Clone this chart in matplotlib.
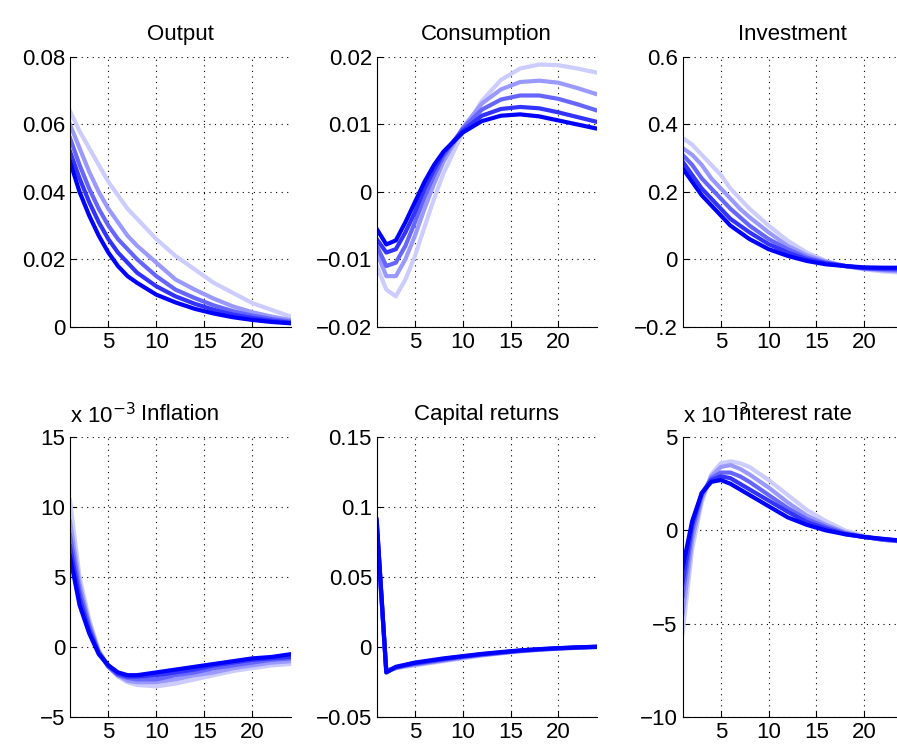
import numpy as np
import matplotlib
matplotlib.use('Agg')
import matplotlib.pyplot as plt

plt.rcParams['font.family'] = ['Liberation Sans', 'DejaVu Sans']

# periods (shared by all panels)
t = [1, 2, 3, 4, 5, 6, 7, 8, 10, 12, 14, 16, 18, 20, 22, 24]

# each panel: lines ordered from light to dark
output = [
    [0.064, 0.058, 0.053, 0.048, 0.043, 0.039, 0.035, 0.032, 0.026, 0.021, 0.017, 0.013, 0.010, 0.007, 0.005, 0.003],
    [0.060, 0.053, 0.046, 0.040, 0.035, 0.031, 0.027, 0.024, 0.019, 0.014, 0.011, 0.0083, 0.006, 0.0043, 0.003, 0.002],
    [0.056, 0.048, 0.041, 0.035, 0.030, 0.026, 0.023, 0.020, 0.015, 0.011, 0.0085, 0.0063, 0.0046, 0.0033, 0.0023, 0.0015],
    [0.052, 0.044, 0.037, 0.031, 0.026, 0.022, 0.019, 0.016, 0.012, 0.009, 0.0068, 0.005, 0.0036, 0.0026, 0.0018, 0.0012],
    [0.049, 0.040, 0.033, 0.027, 0.022, 0.018, 0.015, 0.013, 0.0095, 0.0072, 0.0053, 0.0039, 0.0028, 0.002, 0.0014, 0.001],
]
consumption = [
    [-0.011, -0.0145, -0.0155, -0.013, -0.0095, -0.0052, -0.001, 0.0028, 0.0088, 0.0135, 0.0166, 0.0183, 0.0189, 0.0188, 0.0183, 0.0177],
    [-0.009, -0.0125, -0.0125, -0.0100, -0.0065, -0.0025, 0.0012, 0.0045, 0.0095, 0.0131, 0.0152, 0.0163, 0.0165, 0.0162, 0.0154, 0.0145],
    [-0.008, -0.011, -0.0105, -0.008, -0.0045, -0.0008, 0.0025, 0.0053, 0.0094, 0.0122, 0.0137, 0.0143, 0.0143, 0.0138, 0.013, 0.0121],
    [-0.007, -0.009, -0.0085, -0.006, -0.003, 0.0005, 0.0033, 0.0058, 0.0091, 0.0113, 0.0123, 0.0126, 0.0124, 0.0118, 0.0111, 0.0104],
    [-0.0055, -0.0078, -0.0072, -0.0045, -0.0015, 0.0015, 0.004, 0.006, 0.0088, 0.0105, 0.0113, 0.0115, 0.0112, 0.0106, 0.0100, 0.0094],
]
investment = [
    [0.36, 0.34, 0.31, 0.28, 0.25, 0.21, 0.18, 0.15, 0.10, 0.055, 0.02, -0.005, -0.02, -0.03, -0.036, -0.04],
    [0.33, 0.31, 0.28, 0.24, 0.21, 0.18, 0.15, 0.125, 0.08, 0.04, 0.012, -0.007, -0.02, -0.028, -0.033, -0.036],
    [0.31, 0.28, 0.24, 0.21, 0.18, 0.15, 0.125, 0.10, 0.06, 0.03, 0.005, -0.01, -0.02, -0.027, -0.03, -0.032],
    [0.29, 0.25, 0.21, 0.18, 0.15, 0.12, 0.10, 0.08, 0.045, 0.02, 0.0, -0.012, -0.02, -0.026, -0.028, -0.028],
    [0.27, 0.23, 0.19, 0.16, 0.13, 0.10, 0.08, 0.06, 0.03, 0.01, -0.005, -0.015, -0.02, -0.024, -0.025, -0.025],
]
# inflation and interest rate in units of 1e-3
inflation = [
    [10.5, 5.0, 2.0, -0.2, -1.4, -2.1, -2.5, -2.7, -2.8, -2.6, -2.3, -2.0, -1.7, -1.5, -1.3, -1.2],
    [9.0, 4.5, 1.7, -0.3, -1.4, -2.0, -2.4, -2.5, -2.5, -2.3, -2.0, -1.8, -1.5, -1.3, -1.1, -1.0],
    [8.0, 4.0, 1.5, -0.4, -1.4, -2.0, -2.2, -2.3, -2.3, -2.0, -1.8, -1.5, -1.3, -1.1, -0.9, -0.8],
    [7.2, 3.5, 1.2, -0.4, -1.3, -1.9, -2.1, -2.1, -2.0, -1.8, -1.6, -1.3, -1.1, -0.9, -0.8, -0.7],
    [6.5, 3.0, 1.0, -0.5, -1.3, -1.8, -2.0, -2.0, -1.8, -1.6, -1.4, -1.2, -1.0, -0.8, -0.7, -0.5],
]
capital = [
    [0.082, -0.016, -0.015, -0.014, -0.013, -0.012, -0.011, -0.010, -0.008, -0.006, -0.0045, -0.003, -0.002, -0.0012, -0.0005, 0.0],
    [0.085, -0.017, -0.015, -0.0135, -0.0125, -0.0115, -0.0105, -0.0095, -0.0075, -0.0057, -0.0042, -0.0028, -0.0018, -0.001, -0.0004, 0.0],
    [0.087, -0.017, -0.0145, -0.013, -0.012, -0.011, -0.010, -0.009, -0.007, -0.0054, -0.004, -0.0027, -0.0017, -0.0009, -0.0003, 0.0002],
    [0.089, -0.018, -0.0145, -0.013, -0.0115, -0.0105, -0.0095, -0.0085, -0.0067, -0.0051, -0.0038, -0.0025, -0.0015, -0.0008, -0.0002, 0.0003],
    [0.091, -0.018, -0.014, -0.0125, -0.011, -0.010, -0.009, -0.008, -0.0064, -0.0048, -0.0035, -0.0023, -0.0014, -0.0007, -0.0001, 0.0003],
]
interest = [
    [-5.5, -1.0, 1.5, 3.0, 3.6, 3.7, 3.6, 3.4, 2.7, 1.9, 1.1, 0.5, 0.0, -0.3, -0.5, -0.6],
    [-4.5, -0.5, 1.7, 2.9, 3.4, 3.5, 3.3, 3.0, 2.3, 1.5, 0.8, 0.3, -0.1, -0.35, -0.5, -0.6],
    [-3.5, 0.0, 1.9, 2.8, 3.1, 3.1, 2.9, 2.6, 1.9, 1.2, 0.6, 0.2, -0.15, -0.35, -0.5, -0.58],
    [-2.8, 0.3, 2.0, 2.7, 2.9, 2.8, 2.5, 2.2, 1.6, 1.0, 0.45, 0.1, -0.2, -0.35, -0.47, -0.56],
    [-2.0, 0.5, 2.0, 2.6, 2.7, 2.5, 2.2, 1.9, 1.3, 0.7, 0.3, 0.0, -0.2, -0.35, -0.45, -0.55],
]

panels = [
    ('Output', output, (0, 0.08), [0, 0.02, 0.04, 0.06, 0.08], ['0', '0.02', '0.04', '0.06', '0.08'], False),
    ('Consumption', consumption, (-0.02, 0.02), [-0.02, -0.01, 0, 0.01, 0.02], ['\u22120.02', '\u22120.01', '0', '0.01', '0.02'], False),
    ('Investment', investment, (-0.2, 0.6), [-0.2, 0, 0.2, 0.4, 0.6], ['\u22120.2', '0', '0.2', '0.4', '0.6'], False),
    ('Inflation', inflation, (-5, 15), [-5, 0, 5, 10, 15], ['\u22125', '0', '5', '10', '15'], True),
    ('Capital returns', capital, (-0.05, 0.15), [-0.05, 0, 0.05, 0.1, 0.15], ['\u22120.05', '0', '0.05', '0.1', '0.15'], False),
    ('Interest rate', interest, (-10, 5), [-10, -5, 0, 5], ['\u221210', '\u22125', '0', '5'], True),
]

positions = [
    [0.078, 0.565, 0.246, 0.359], [0.420, 0.565, 0.245, 0.359], [0.761, 0.565, 0.245, 0.359],
    [0.078, 0.045, 0.246, 0.373], [0.420, 0.045, 0.245, 0.373], [0.761, 0.045, 0.245, 0.373],
]

n = len(output)
colors = [(c, c, 1.0) for c in np.linspace(0.8, 0.0, n)]

fig = plt.figure(figsize=(8.97, 7.51), dpi=100)
for pos, (title, lines, ylim, yt, ytl, sci) in zip(positions, panels):
    ax = fig.add_axes(pos)
    for y, c in zip(lines, colors):
        ax.plot(t, y, color=c, lw=3)
    ax.set_xlim(1, 24)
    ax.set_ylim(*ylim)
    ax.set_xticks([5, 10, 15, 20])
    ax.set_yticks(yt)
    ax.set_yticklabels(ytl)
    ax.tick_params(direction='in', labelsize=16, length=4)
    ax.spines['top'].set_visible(False)
    ax.spines['right'].set_visible(False)
    ax.grid(True, color='k', linestyle=(0, (1, 4)), linewidth=0.8)
    ax.set_title(title, fontsize=16, pad=12)
    if sci:
        ax.text(0.0, 1.03, r'x 10$^{-3}$', transform=ax.transAxes, fontsize=16, va='bottom')

fig.savefig('out.png', dpi=100)
